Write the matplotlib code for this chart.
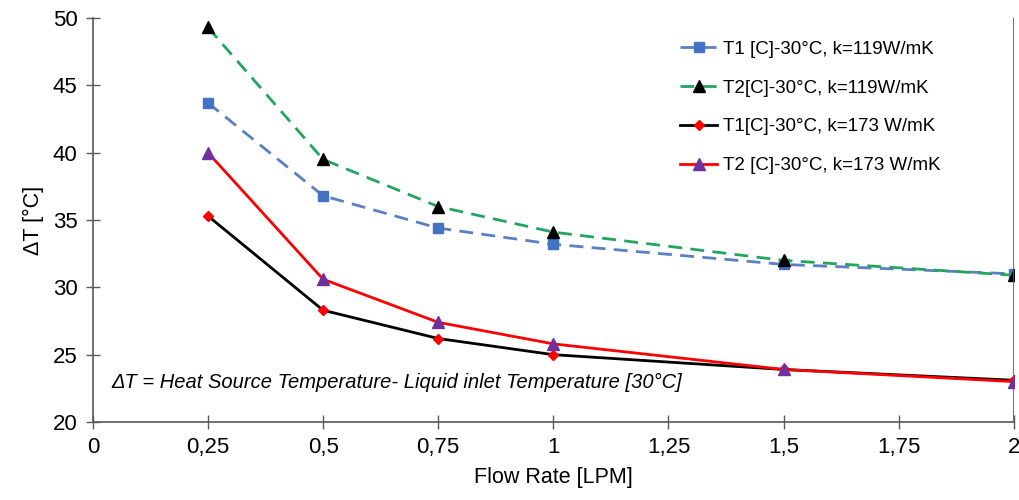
import matplotlib
matplotlib.use('Agg')
import matplotlib.pyplot as plt
from matplotlib.ticker import FuncFormatter

# flow rates [LPM]
flow = [0.25, 0.5, 0.75, 1.0, 1.5, 2.0]

# delta T values
t1_k119 = [43.7, 36.8, 34.4, 33.2, 31.7, 31.0]
t2_k119 = [49.3, 39.5, 36.0, 34.1, 32.0, 30.9]
t1_k173 = [35.3, 28.3, 26.2, 25.0, 23.9, 23.1]
t2_k173 = [40.0, 30.6, 27.4, 25.8, 23.9, 23.0]

labels = ['T1 [C]-30°C, k=119W/mK', 'T2[C]-30°C, k=119W/mK',
          'T1[C]-30°C, k=173 W/mK', 'T2 [C]-30°C, k=173 W/mK']

xticks = [0, 0.25, 0.5, 0.75, 1, 1.25, 1.5, 1.75, 2]

font = 'Liberation Sans'

fig = plt.figure(figsize=(10.2, 5), dpi=100)
ax = fig.add_axes([0.091, 0.156, 0.903, 0.808])

ax.plot(flow, t1_k119, color='#5b7fc4', ls=(0, (5, 3)), lw=2,
        marker='s', ms=7, mfc='#4472c4', mec='#4472c4', label=labels[0])
ax.plot(flow, t2_k119, color='#23a560', ls=(0, (5, 3)), lw=2,
        marker='^', ms=8, mfc='#000000', mec='#000000', label=labels[1])
ax.plot(flow, t1_k173, color='#000000', lw=2,
        marker='D', ms=5.5, mfc='#ff0000', mec='#ff0000', label=labels[2])
ax.plot(flow, t2_k173, color='#ff0000', lw=2,
        marker='^', ms=8, mfc='#7030a0', mec='#7030a0', label=labels[3])

ax.set_xlim(0, 2)
ax.set_ylim(20, 50)
ax.set_xticks(xticks)
ax.xaxis.set_major_formatter(FuncFormatter(lambda v, p: ('%g' % v).replace('.', ',')))
ax.set_yticks(range(20, 51, 5))

for s in ['top', 'right']:
    ax.spines[s].set_visible(False)
for s in ['left', 'bottom']:
    ax.spines[s].set_color('#595959')
    ax.spines[s].set_linewidth(1.2)
ax.axvline(2, color='#595959', lw=1.2)
ax.tick_params(direction='inout', length=10, width=1, color='#595959',
               labelsize=16, pad=6)
for t in ax.get_xticklabels() + ax.get_yticklabels():
    t.set_fontfamily(font)

ax.set_xlabel('Flow Rate [LPM]', fontsize=15.5, family=font, labelpad=6)
ax.set_ylabel('ΔT [°C]', fontsize=15.5, family=font, labelpad=6)

ax.text(0.02, 0.098, 'ΔT = Heat Source Temperature- Liquid inlet Temperature [30°C]',
        transform=ax.transAxes, fontsize=14.5, style='italic', family=font,
        va='center', ha='left')

leg = ax.legend(loc='upper left', bbox_to_anchor=(0.619, 0.985), frameon=False,
                prop={'family': font, 'size': 13.5},
                handlelength=2.0, labelspacing=1.15, handletextpad=0.3)

fig.savefig('out.png', dpi=100)
